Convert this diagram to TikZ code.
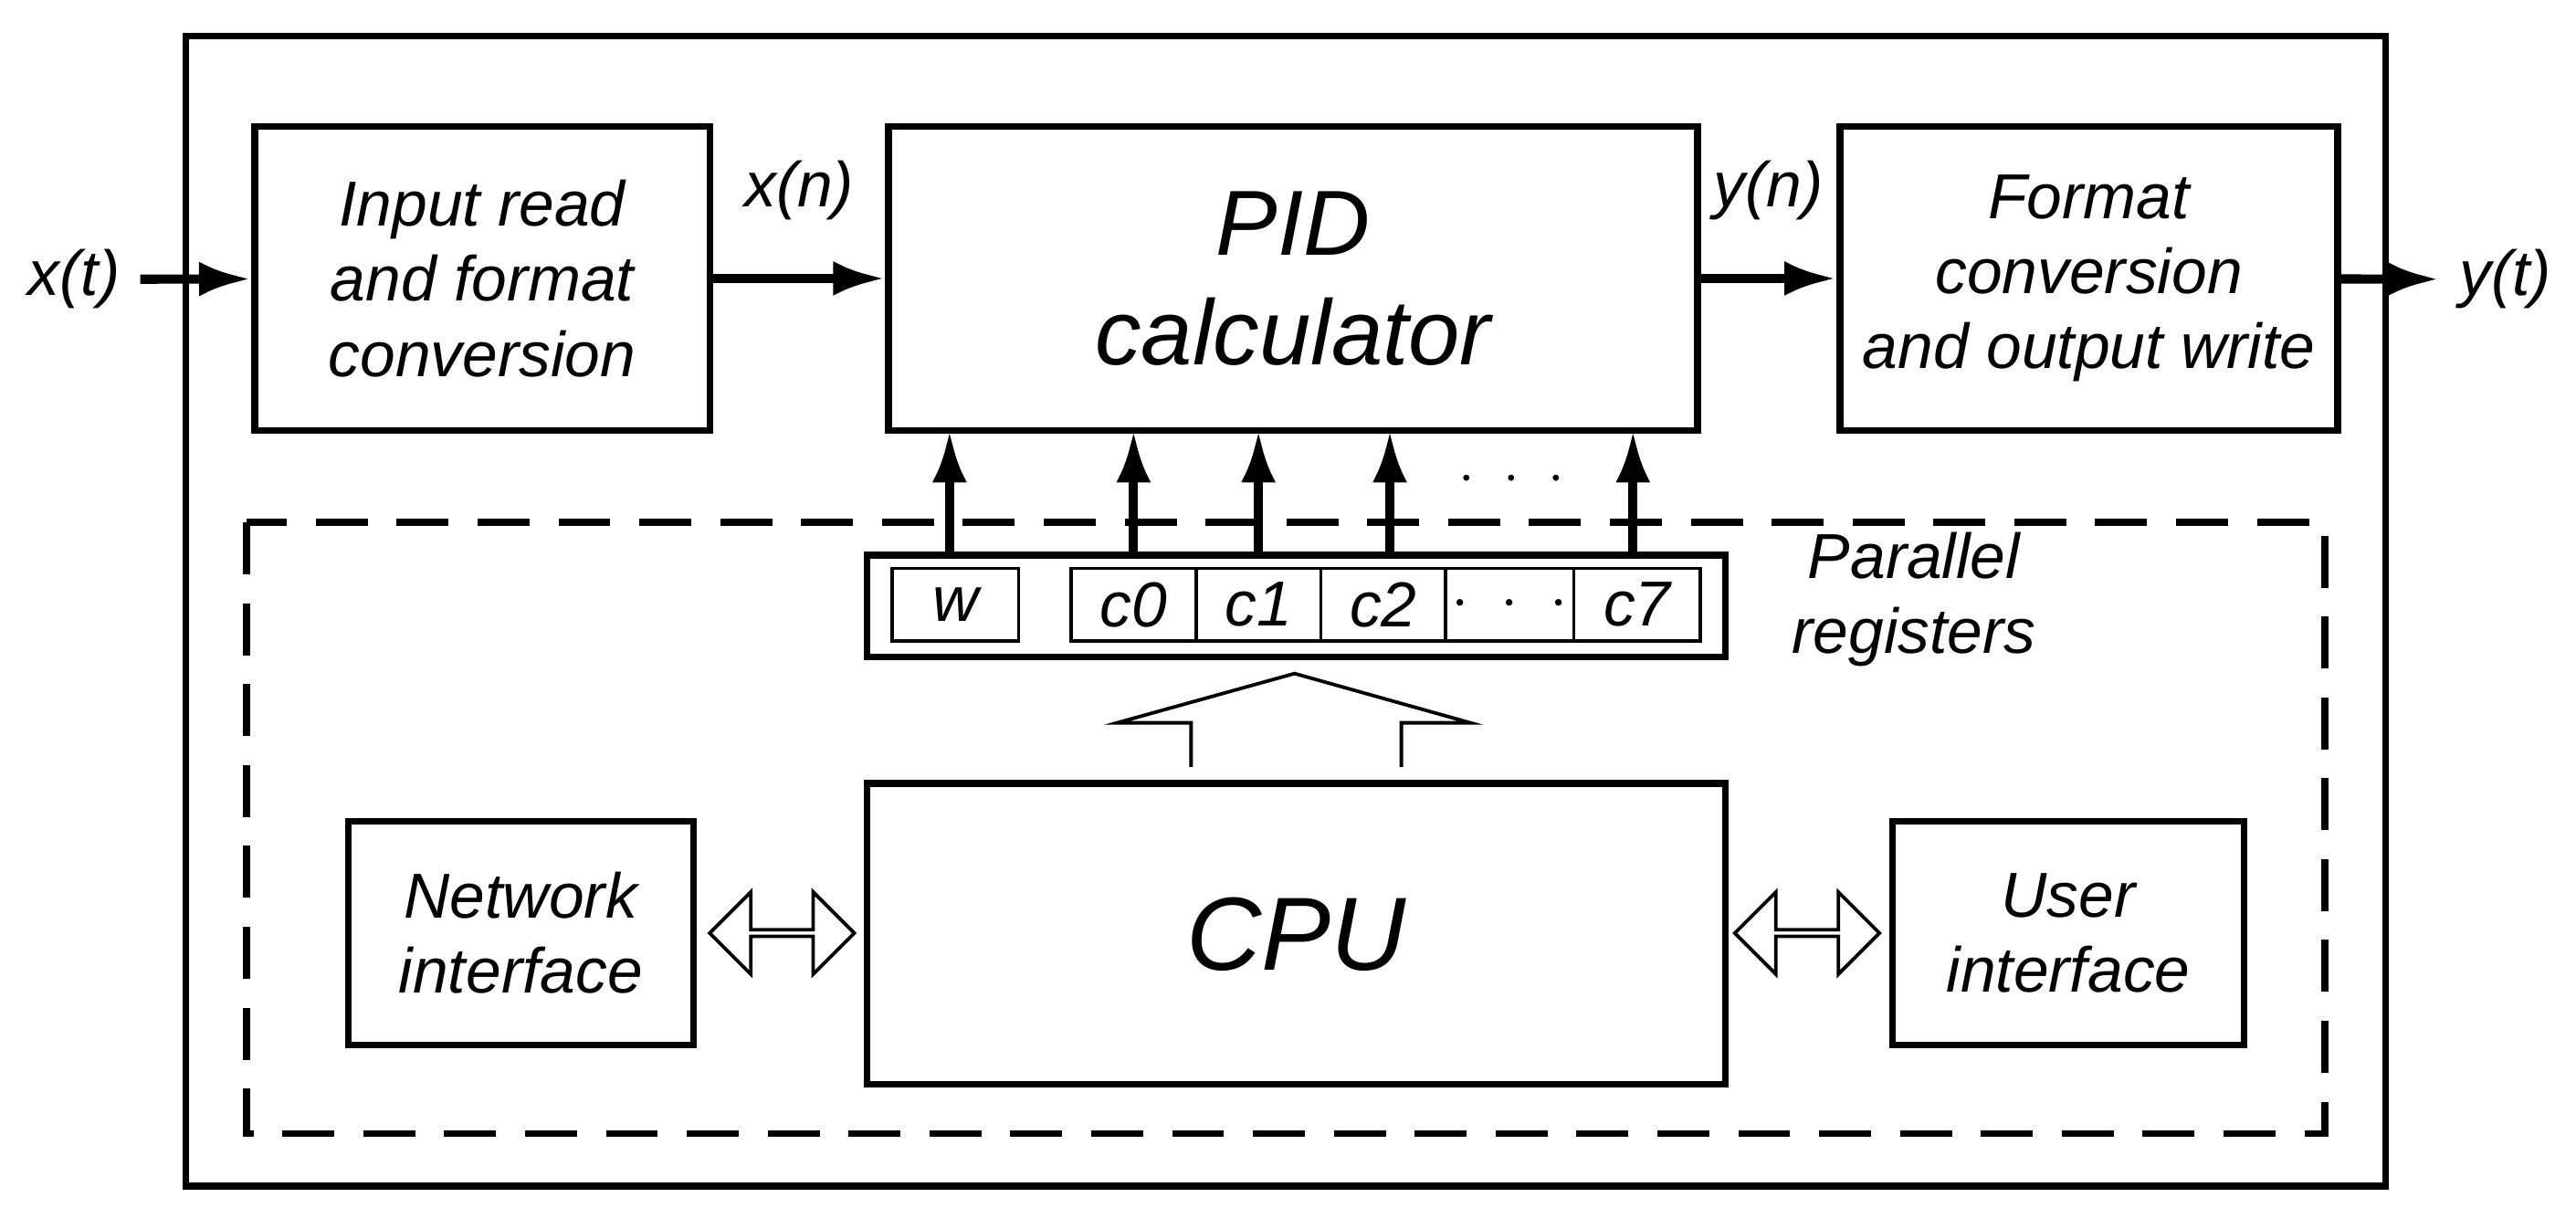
\documentclass[tikz,border=0pt]{standalone}
\usepackage{fontspec}
\setmainfont{Liberation Sans}
\usetikzlibrary{arrows.meta,shapes.arrows}
\begin{document}
\begin{tikzpicture}[x=0.01cm,y=-0.01cm,
    blk/.style={draw,line width=1.2pt,font=\itshape\fontsize{11}{13}\selectfont,align=center,inner sep=0pt},
    reg/.style={draw,line width=0.6pt,font=\itshape\fontsize{11}{13}\selectfont,inner sep=0pt,minimum height=0.44cm},
    sig/.style={line width=1.6pt,-{Latex[length=9pt,width=6pt]}},
    lbl/.style={font=\itshape\fontsize{11}{13}\selectfont},
    dbl/.style={double arrow,draw,line width=0.6pt,minimum width=0.5cm,double arrow head extend=0.12cm,minimum height=0.88cm,inner sep=0pt}]
    \useasboundingbox (0,0) rectangle (1568,735);
    \draw[line width=1.2pt] (113,22) rectangle (1452,722);
    \draw[line width=1.2pt,dash pattern=on 9pt off 5pt] (150,318) rectangle (1415,690);
    % top row
    \node[blk,minimum width=2.77cm,minimum height=1.85cm] (inp) at (293.5,169.5) {Input read\\and format\\conversion};
    \node[blk,minimum width=4.92cm,minimum height=1.85cm,font=\itshape\fontsize{16}{19}\selectfont] (pid) at (787,169.5) {PID\\calculator};
    \node[blk,minimum width=3.03cm,minimum height=1.85cm] (outp) at (1271.5,169.5) {Format\\conversion\\and output write};
    \node[lbl] (xt) at (45,170) {x(t)};
    \node[lbl] (yt) at (1525,170) {y(t)};
    \draw[sig] (xt) -- (inp);
    \draw[sig] (inp) -- node[lbl,above=6pt] {x(n)} (pid);
    \draw[sig] (pid) -- node[lbl,above=6pt] {y(n)} (outp);
    \draw[sig] (outp) -- (yt);
    % registers
    \node[draw,line width=1.2pt,minimum width=5.22cm,minimum height=0.62cm,inner sep=0pt] (regs) at (789,369) {};
    \node[reg,minimum width=0.77cm] (w) at (581.5,368) {w};
    \node[reg,minimum width=0.76cm] (c0) at (690,368) {c0};
    \node[reg,minimum width=0.76cm] (c1) at (766,368) {c1};
    \node[reg,minimum width=0.76cm] (c2) at (842,368) {c2};
    \node[reg,minimum width=0.78cm,draw=none] (cd) at (919,368) {$\cdot\ \cdot\ \cdot$};
    \draw[line width=0.6pt] (880,346) -- (958,346) (880,390) -- (958,390);
    \node[reg,minimum width=0.77cm] (c7) at (996.5,368) {c7};
    \node[lbl,align=center] (plab) at (1165,365) {Parallel\\registers};
    \foreach \r/\x in {w/578,c0/690,c1/766,c2/846,c7/994}
        \draw[sig] (\x,338) -- (\x,262);
    \node (pdots) at (920,292) {$\cdot\ \cdot\ \cdot$};
    % lower row
    \node[blk,minimum width=5.22cm,minimum height=1.83cm,font=\itshape\fontsize{18}{21}\selectfont] (cpu) at (789,568.5) {CPU};
    \node[blk,minimum width=2.10cm,minimum height=1.36cm] (net) at (317,568) {Network\\interface};
    \node[blk,minimum width=2.14cm,minimum height=1.36cm] (usr) at (1259,568) {User\\interface};
    \draw[line width=0.6pt] (725,467) -- (725,440) -- (680,440) -- (788,410) -- (895,440) -- (853,440) -- (853,467);
    \node[dbl] (la) at (476,568) {};
    \node[dbl] (ra) at (1100,568) {};
\end{tikzpicture}
\end{document}
